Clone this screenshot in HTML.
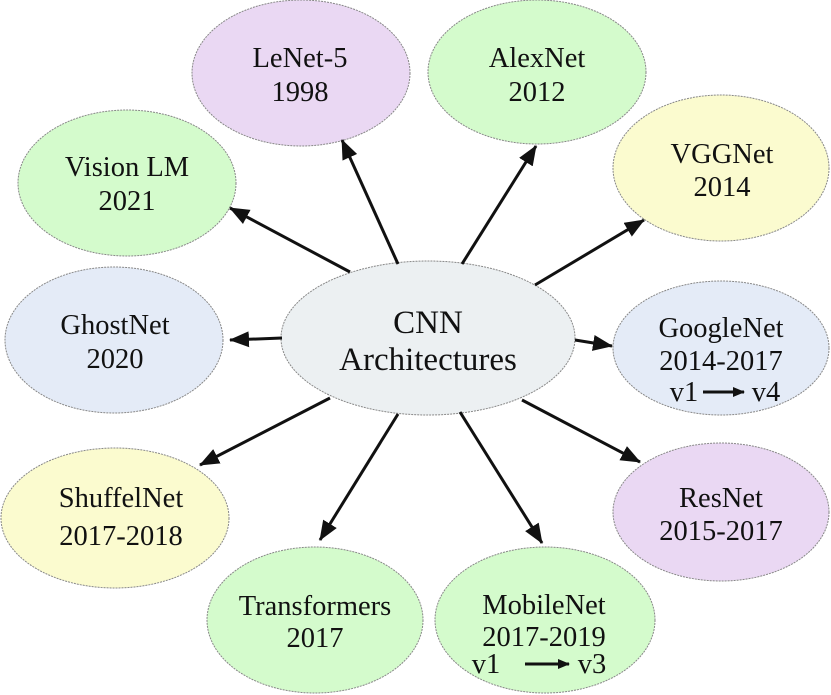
<!DOCTYPE html>
<html><head><meta charset="utf-8"><style>
html,body{margin:0;padding:0;background:#fff;}
svg{display:block;}
text{font-family:"Liberation Serif","Times New Roman",serif;font-size:28.5px;fill:#111;text-anchor:middle;}
</style></head><body>
<svg width="831" height="695" viewBox="0 0 831 695" xmlns="http://www.w3.org/2000/svg">
<defs>
<marker id="a" markerWidth="12" markerHeight="10" refX="11" refY="5" orient="auto" markerUnits="userSpaceOnUse">
<path d="M0,0 L12,5 L0,10 Z" fill="#111"/></marker>
<marker id="b" markerWidth="20" markerHeight="16" refX="19" refY="8" orient="auto" markerUnits="userSpaceOnUse">
<path d="M0,0 L20,8 L0,16 Z" fill="#111"/></marker>
</defs>
<g stroke="#888" stroke-width="1" stroke-dasharray="2,1">
<ellipse cx="428" cy="338" rx="147" ry="77" fill="#ecf0f2"/>
<ellipse cx="301" cy="73" rx="109" ry="73" fill="#ead8f3"/>
<ellipse cx="537" cy="72" rx="109" ry="72" fill="#d4fbcc"/>
<ellipse cx="721" cy="168" rx="108" ry="73" fill="#fbfbcf"/>
<ellipse cx="127" cy="183" rx="109" ry="73" fill="#d4fbcc"/>
<ellipse cx="114" cy="340" rx="109" ry="73" fill="#e4ebf7"/>
<ellipse cx="721" cy="348" rx="108" ry="67" fill="#e4ebf7"/>
<ellipse cx="721" cy="512" rx="108" ry="69" fill="#ead8f3"/>
<ellipse cx="115" cy="518" rx="114" ry="70" fill="#fbfbcf"/>
<ellipse cx="315" cy="620" rx="108" ry="73" fill="#d4fbcc"/>
<ellipse cx="545" cy="620" rx="110" ry="73" fill="#d4fbcc"/>
</g>
<g stroke="#111" stroke-width="3" marker-end="url(#b)">
<line x1="398" y1="264" x2="342" y2="140"/>
<line x1="462" y1="264" x2="536" y2="146"/>
<line x1="535" y1="285" x2="644" y2="220"/>
<line x1="350" y1="272" x2="230" y2="208"/>
<line x1="282" y1="338" x2="230" y2="340"/>
<line x1="575" y1="340" x2="612" y2="346"/>
<line x1="330" y1="398" x2="200" y2="465"/>
<line x1="522" y1="400" x2="640" y2="462"/>
<line x1="398" y1="414" x2="320" y2="540"/>
<line x1="460" y1="412" x2="542" y2="543"/>
</g>
<text x="428" y="333" style="font-size:33px">CNN</text>
<text x="428" y="370" style="font-size:33px">Architectures</text>
<text x="300" y="67">LeNet-5</text><text x="300" y="101">1998</text>
<text x="537" y="67">AlexNet</text><text x="537" y="101">2012</text>
<text x="722" y="163">VGGNet</text><text x="722" y="196">2014</text>
<text x="127" y="176">Vision LM</text><text x="127" y="210">2021</text>
<text x="115" y="334">GhostNet</text><text x="115" y="368">2020</text>
<text x="721" y="337">GoogleNet</text><text x="721" y="370">2014-2017</text>
<text x="684" y="401">v1</text><text x="766" y="401">v4</text>
<text x="721" y="507">ResNet</text><text x="721" y="540">2015-2017</text>
<text x="121" y="507">ShuffelNet</text><text x="121" y="545">2017-2018</text>
<text x="315" y="615">Transformers</text><text x="315" y="647">2017</text>
<text x="544" y="614">MobileNet</text><text x="544" y="646">2017-2019</text>
<text x="486" y="673">v1</text><text x="592" y="673">v3</text>
<g stroke="#111" stroke-width="3" marker-end="url(#a)">
<line x1="703" y1="392" x2="744" y2="392"/>
<line x1="525" y1="664" x2="569" y2="664"/>
</g>
</svg>
</body></html>
